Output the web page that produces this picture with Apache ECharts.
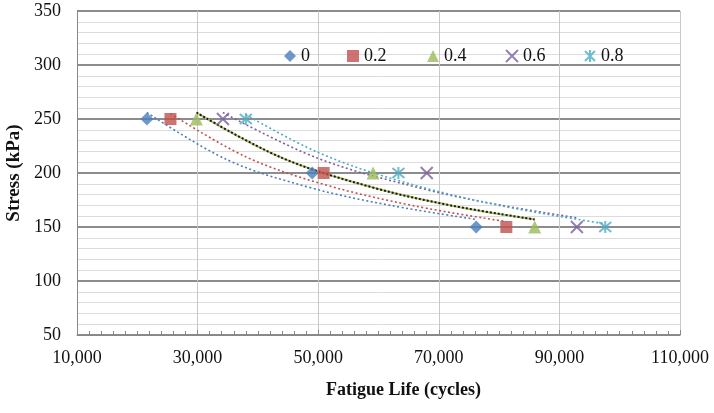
<!DOCTYPE html>
<html>
<head>
<meta charset="utf-8">
<script src="https://cdn.jsdelivr.net/npm/echarts@6/dist/echarts.min.js"></script>
<style>html,body{margin:0;padding:0;background:#fff}#c{width:714px;height:413px}</style>
</head>
<body>
<div id="c"></div>
<script>
// Series names (legend)
const seriesNames = ['0', '0.2', '0.4', '0.6', '0.8'];
// Data points: [fatigue life (cycles), stress (kPa)]
const s0  = [[21600, 250], [49000, 200], [76200, 150]];
const s02 = [[25500, 250], [50900, 200], [81200, 150]];
const s04 = [[29800, 250], [59100, 200], [85900, 150]];
const s06 = [[34200, 250], [68000, 200], [92900, 150]];
const s08 = [[38000, 250], [63300, 200], [97600, 150]];
// Trendline points (dotted curves)
const t0  = [[21600, 256], [35000, 212], [49000, 186], [62000, 170], [76200, 157]];
const t02 = [[25500, 255], [38000, 215], [50900, 189.5], [66000, 169.5], [81200, 155]];
const t04 = [[29800, 256], [44000, 214], [59100, 186.5], [72000, 170], [85900, 157]];
const t06 = [[34200, 256], [50000, 213.5], [68000, 184.5], [80000, 170.5], [92900, 158.5]];
const t08 = [[38000, 254], [50000, 219], [63300, 193], [80000, 170], [97600, 153]];
// Axis ranges
const xTicks = [10000, 30000, 50000, 70000, 90000, 110000];
const yTicks = [50, 100, 150, 200, 250, 300, 350];

const colors = ['#4a7ebb', '#c0504d', '#9bbb59', '#7d5fa5', '#4bacc6'];
const symbols = ['diamond', 'rect', 'triangle',
  'path://M0,0L10,10M10,0L0,10',
  'path://M0,0L10,10M10,0L0,10M5,-1L5,11'];
const symbolSizes = [13, 12, 13, 12, 12];
const pts = [s0, s02, s04, s06, s08];
const trends = [t0, t02, t04, t06, t08];
const font = 'Liberation Serif';

const series = [];
trends.forEach((t, i) => {
  if (i === 2) {
    series.push({type: 'line', data: t, smooth: 0.35, symbol: 'none', silent: true, z: 2,
      lineStyle: {color: '#b5c46a', width: 2, type: 'solid'}});
    series.push({type: 'line', data: t, smooth: 0.35, symbol: 'none', silent: true, z: 3,
      lineStyle: {color: '#1a1a1a', width: 2, type: [2, 2]}});
  } else {
    series.push({type: 'line', data: t, smooth: 0.35, symbol: 'none', silent: true, z: 2,
      lineStyle: {color: colors[i], width: 1.6, type: [2, 2.5]}});
  }
});
pts.forEach((p, i) => {
  const isLine = i >= 3;
  series.push({
    name: seriesNames[i], type: 'scatter', data: p, z: 5,
    symbol: symbols[i], symbolSize: symbolSizes[i],
    itemStyle: isLine ? {color: colors[i], borderColor: colors[i], borderWidth: 2}
                      : {color: colors[i]}
  });
});

const legendLefts = [279, 342, 422, 500, 579];
const legends = seriesNames.map((n, i) => ({
  data: [n], left: legendLefts[i], top: 42, itemWidth: 12, itemHeight: 12, itemGap: 0,
  textStyle: {fontFamily: font, fontSize: 18, color: '#111'}
}));

const chart = echarts.init(document.getElementById('c'), null, {renderer: 'canvas'});
chart.setOption({
  animation: false,
  backgroundColor: '#fff',
  grid: {left: 77, right: 34, top: 11, bottom: 78, containLabel: false, outerBoundsMode: 'none'},
  legend: legends,
  xAxis: {
    type: 'value', min: xTicks[0], max: xTicks[xTicks.length - 1], interval: 20000,
    name: 'Fatigue Life (cycles)', nameLocation: 'middle', nameGap: 46,
    nameTextStyle: {fontFamily: font, fontSize: 18, fontWeight: 'bold', color: '#111',
      padding: [0, 0, 0, 50]},
    axisLine: {show: true, lineStyle: {color: '#888', width: 1}},
    axisTick: {show: true, inside: true, length: 5, lineStyle: {color: '#888'}},
    minorTick: {show: true, splitNumber: 10, length: 4, lineStyle: {color: '#888'}},
    axisLabel: {fontFamily: font, fontSize: 18, color: '#111', margin: 14,
      formatter: v => v.toLocaleString('en-US')},
    splitLine: {show: true, lineStyle: {color: '#c8c8c8', width: 1}}
  },
  yAxis: {
    type: 'value', min: yTicks[0], max: yTicks[yTicks.length - 1], interval: 50,
    name: 'Stress (kPa)', nameLocation: 'middle', nameGap: 51, nameRotate: 90,
    nameTextStyle: {fontFamily: font, fontSize: 19, fontWeight: 'bold', color: '#111'},
    axisLine: {show: true, lineStyle: {color: '#888', width: 1}},
    axisTick: {show: false},
    minorTick: {show: false, splitNumber: 5},
    minorSplitLine: {show: true, lineStyle: {color: '#dcdcdc', width: 1}},
    axisLabel: {fontFamily: font, fontSize: 18, color: '#111', margin: 16},
    splitLine: {show: true, lineStyle: {color: '#8c8c8c', width: 2}}
  },
  series: series
});
</script>
</body>
</html>
